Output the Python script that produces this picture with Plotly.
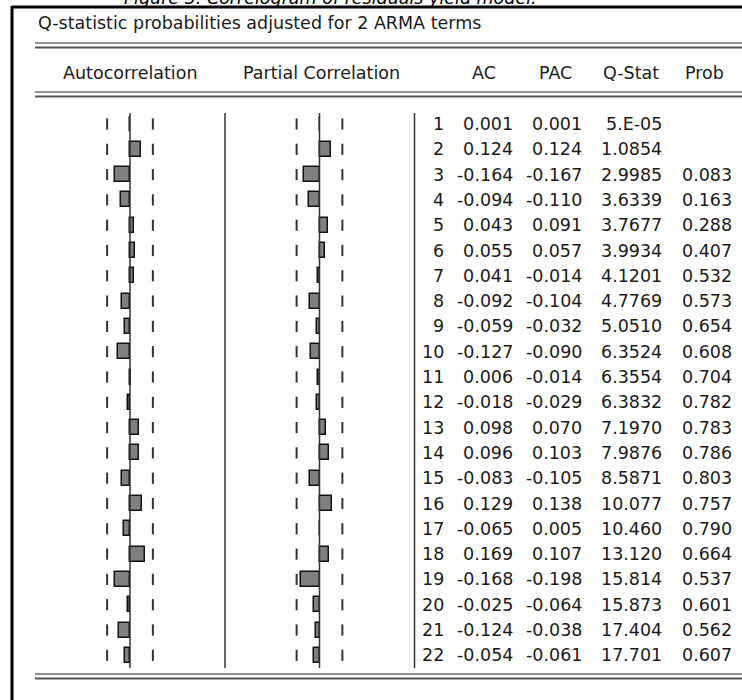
import plotly.graph_objects as go

# ---------------- data ----------------
lags = list(range(1, 23))
ac = [0.001, 0.124, -0.164, -0.094, 0.043, 0.055, 0.041, -0.092, -0.059, -0.127, 0.006,
      -0.018, 0.098, 0.096, -0.083, 0.129, -0.065, 0.169, -0.168, -0.025, -0.124, -0.054]
pac = [0.001, 0.124, -0.167, -0.110, 0.091, 0.057, -0.014, -0.104, -0.032, -0.090, -0.014,
       -0.029, 0.070, 0.103, -0.105, 0.138, 0.005, 0.107, -0.198, -0.064, -0.038, -0.061]
qstat = ["5.E-05", "1.0854", "2.9985", "3.6339", "3.7677", "3.9934", "4.1201", "4.7769",
         "5.0510", "6.3524", "6.3554", "6.3832", "7.1970", "7.9876", "8.5871", "10.077",
         "10.460", "13.120", "15.814", "15.873", "17.404", "17.701"]
prob = ["", "", "0.083", "0.163", "0.288", "0.407", "0.532", "0.573", "0.654", "0.608",
        "0.704", "0.782", "0.783", "0.786", "0.803", "0.757", "0.790", "0.664", "0.537",
        "0.601", "0.562", "0.607"]
conf_bound = 0.25
col_headers = ["AC", "PAC", "Q-Stat", "Prob"]
panel_headers = ["Autocorrelation", "Partial Correlation"]
title_text = "Q-statistic probabilities adjusted for 2 ARMA terms"
caption_text = "Figure 3. Correlogram of residuals yield model."

# ---------------- layout geometry (pixels) ----------------
W, H = 742, 700
ROW0, ROWSTEP = 124.0, 25.3
PX_PER_UNIT = 91.5
AC_ZERO, PAC_ZERO = 130.0, 319.5
SEP_OFFSET = 95.0
FONT = "DejaVu Sans"
FS = 17.5
TXT = "#1a1a1a"

def lag_at(py):
    return 1 + (py - ROW0) / ROWSTEP

def py_to_paper(py):
    return 1 - py / H

def fmt(v):
    return f"{v:.3f}"

fig = go.Figure()

bar_style = dict(orientation="h", width=15 / ROWSTEP,
                 marker=dict(color="#808080", line=dict(color="#111111", width=1.5)),
                 hoverinfo="skip", showlegend=False)
fig.add_trace(go.Bar(x=ac, y=lags, xaxis="x", yaxis="y", **bar_style))
fig.add_trace(go.Bar(x=pac, y=lags, xaxis="x2", yaxis="y", **bar_style))

dash_style = dict(mode="markers", hoverinfo="skip", showlegend=False,
                  marker=dict(symbol="line-ns", size=8, line=dict(width=2, color="#333333")))
for xa in ("x", "x2"):
    fig.add_trace(go.Scatter(x=[-conf_bound] * len(lags) + [conf_bound] * len(lags),
                             y=lags + lags, xaxis=xa, yaxis="y", **dash_style))

shapes = []
y_top, y_bot = lag_at(113), lag_at(668)
for xr in ("x", "x2"):
    shapes.append(dict(type="line", xref=xr, yref="y", x0=0, x1=0, y0=y_top, y1=y_bot,
                       line=dict(color="#333333", width=1.5)))
    shapes.append(dict(type="line", xref=xr, yref="y", x0=SEP_OFFSET / PX_PER_UNIT,
                       x1=SEP_OFFSET / PX_PER_UNIT, y0=y_top, y1=y_bot,
                       line=dict(color="#333333", width=1.5)))

# frame
shapes.append(dict(type="line", xref="paper", yref="paper", x0=12 / W, x1=1.01,
                   y0=py_to_paper(7), y1=py_to_paper(7), line=dict(color="black", width=3)))
shapes.append(dict(type="line", xref="paper", yref="paper", x0=12 / W, x1=12 / W,
                   y0=py_to_paper(6), y1=-0.01, line=dict(color="black", width=3)))
for py in (43, 92, 674):
    shapes.append(dict(type="line", xref="paper", yref="paper", x0=35 / W, x1=1.01,
                       y0=py_to_paper(py), y1=py_to_paper(py),
                       line=dict(color="#222222", width=1)))
    shapes.append(dict(type="line", xref="paper", yref="paper", x0=35 / W, x1=1.01,
                       y0=py_to_paper(py + 4.5), y1=py_to_paper(py + 4.5),
                       line=dict(color="#555555", width=2)))

annotations = []
font = dict(family=FONT, size=FS, color=TXT)
annotations.append(dict(text="<i>" + caption_text + "</i>", xref="paper", yref="paper",
                        x=330 / W, y=py_to_paper(-2), xanchor="center", yanchor="middle",
                        showarrow=False, font=dict(family=FONT, size=FS, color="black")))
annotations.append(dict(text=title_text, xref="paper", yref="paper", x=36 / W,
                        y=py_to_paper(23), xanchor="left", yanchor="middle",
                        showarrow=False, font=font))
for name, cx in zip(panel_headers, (AC_ZERO, 321)):
    annotations.append(dict(text=name, xref="paper", yref="paper", x=cx / W,
                            y=py_to_paper(73), xanchor="center", yanchor="middle",
                            showarrow=False, font=font))
for name, rx in zip(col_headers, (498, 574, 661, 726)):
    annotations.append(dict(text=name, xref="paper", yref="paper", x=rx / W,
                            y=py_to_paper(73), xanchor="right", yanchor="middle",
                            showarrow=False, font=font))

col_right = [446, 515, 584, 664, 734]
for i, lag in enumerate(lags):
    cells = [str(lag), fmt(ac[i]), fmt(pac[i]), qstat[i], prob[i]]
    for txt, rx in zip(cells, col_right):
        if not txt:
            continue
        annotations.append(dict(text=txt, xref="x3", yref="y", x=rx, y=lag,
                                xanchor="right", yanchor="middle", showarrow=False,
                                font=font))

hidden = dict(visible=False, showgrid=False, zeroline=False, fixedrange=True)
fig.update_layout(
    width=W, height=H,
    margin=dict(l=0, r=0, t=0, b=0),
    paper_bgcolor="white", plot_bgcolor="white",
    barmode="overlay", bargap=0,
    showlegend=False,
    xaxis=dict(range=[-AC_ZERO / PX_PER_UNIT, (W - AC_ZERO) / PX_PER_UNIT],
               domain=[0, 1], **hidden),
    xaxis2=dict(range=[-PAC_ZERO / PX_PER_UNIT, (W - PAC_ZERO) / PX_PER_UNIT],
                domain=[0, 1], overlaying="x", **hidden),
    xaxis3=dict(range=[0, W], domain=[0, 1], overlaying="x", **hidden),
    yaxis=dict(range=[lag_at(H), lag_at(0)], domain=[0, 1], **hidden),
    shapes=shapes,
    annotations=annotations,
)

fig.write_html(
    "out.html",
    config={"displayModeBar": False},
    post_script="document.body.style.margin='0';document.body.style.overflow='hidden';",
)
